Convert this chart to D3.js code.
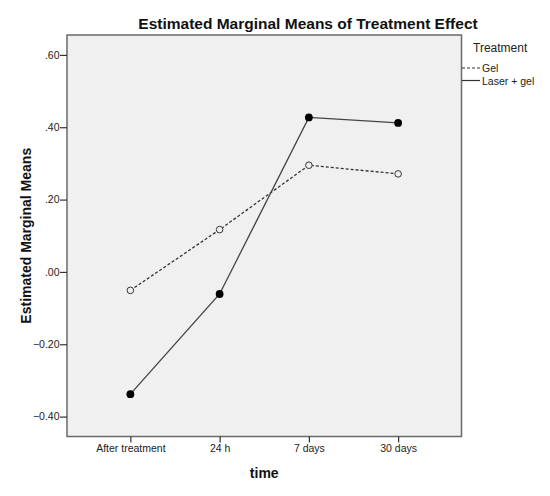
<!DOCTYPE html>
<html>
<head>
<meta charset="utf-8">
<script src="https://cdn.jsdelivr.net/npm/d3@7"></script>
<style>
  body { margin: 0; background: #fff; }
  svg { font-family: "Liberation Sans", Arial, sans-serif; }
</style>
</head>
<body>
<script>
// categories on the x axis
var times = ['After treatment', '24 h', '7 days', '30 days']
// estimated marginal means per treatment
var gelValues = [-0.051, 0.117, 0.295, 0.271]
var laserValues = [-0.338, -0.061, 0.427, 0.412]
// y tick values
var yTicks = [-0.4, -0.2, 0.0, 0.2, 0.4, 0.6]

var width = 550
var height = 496
// plot frame (window.top is reserved, so use plot* names)
var plotLeft = 67, plotTop = 35, plotRight = 461.5, plotBottom = 436.5

var svg = d3.select('body').append('svg')
    .attr('width', width)
    .attr('height', height)

// scales
var xScale = d3.scalePoint()
    .domain(times)
    .range([plotLeft, plotRight])
    .padding(0.71)

var yScale = d3.scaleLinear()
    .domain([-0.455, 0.655])
    .range([plotBottom, plotTop])

// plot background
svg.append('rect')
    .attr('x', plotLeft).attr('y', plotTop)
    .attr('width', plotRight - plotLeft).attr('height', plotBottom - plotTop)
    .attr('fill', '#f0f0f0')
    .attr('stroke', '#6a6a6a')
    .attr('stroke-width', 1.5)

// tick format like SPSS: .60, -.20
var fmt = function (d) {
    var s = d3.format('.2f')(d)
    return s.replace(/^(-?)0\./, '$1.')
}

// axes
var yAxis = d3.axisLeft(yScale).tickValues(yTicks).tickFormat(fmt).tickSize(7).tickSizeOuter(0)
var yG = svg.append('g')
    .attr('transform', 'translate(' + plotLeft + ',0)')
    .call(yAxis)
yG.select('.domain').remove()
yG.selectAll('line').attr('stroke', '#333').attr('stroke-width', 1.2)
yG.selectAll('text').attr('font-size', 10.5).attr('fill', '#222')
    .attr('font-family', '"Liberation Sans", Arial, sans-serif').attr('x', -7.5)

var xAxis = d3.axisBottom(xScale).tickSize(6).tickSizeOuter(0)
var xG = svg.append('g')
    .attr('transform', 'translate(0,' + plotBottom + ')')
    .call(xAxis)
xG.select('.domain').remove()
xG.selectAll('line').attr('stroke', '#333').attr('stroke-width', 1.2)
xG.selectAll('text').attr('font-size', 10.5).attr('fill', '#222')
    .attr('font-family', '"Liberation Sans", Arial, sans-serif').attr('y', 8)

// lines
var line = d3.line()
    .x(function (d, i) { return xScale(times[i]) })
    .y(function (d) { return yScale(d) })

svg.append('path')
    .datum(gelValues)
    .attr('d', line)
    .attr('fill', 'none')
    .attr('stroke', '#333')
    .attr('stroke-width', 1.3)
    .attr('stroke-dasharray', '3,2')

svg.append('path')
    .datum(laserValues)
    .attr('d', line)
    .attr('fill', 'none')
    .attr('stroke', '#444')
    .attr('stroke-width', 1.3)

// markers
svg.selectAll('.gel-pt')
    .data(gelValues)
    .enter()
    .append('circle')
    .attr('class', 'gel-pt')
    .attr('cx', function (d, i) { return xScale(times[i]) })
    .attr('cy', function (d) { return yScale(d) })
    .attr('r', 3.3)
    .attr('fill', '#f0f0f0')
    .attr('stroke', '#333')
    .attr('stroke-width', 1)

svg.selectAll('.laser-pt')
    .data(laserValues)
    .enter()
    .append('circle')
    .attr('class', 'laser-pt')
    .attr('cx', function (d, i) { return xScale(times[i]) })
    .attr('cy', function (d) { return yScale(d) })
    .attr('r', 3.9)
    .attr('fill', '#000')

// title and axis labels
svg.append('text')
    .attr('x', 308).attr('y', 29)
    .attr('text-anchor', 'middle')
    .attr('font-size', 15.5).attr('font-weight', 'bold')
    .attr('fill', '#111')
    .text('Estimated Marginal Means of Treatment Effect')

svg.append('text')
    .attr('transform', 'translate(31,' + ((plotTop + plotBottom) / 2) + ') rotate(-90)')
    .attr('text-anchor', 'middle')
    .attr('font-size', 14).attr('font-weight', 'bold')
    .attr('fill', '#111')
    .text('Estimated Marginal Means')

svg.append('text')
    .attr('x', (plotLeft + plotRight) / 2).attr('y', 478)
    .attr('text-anchor', 'middle')
    .attr('font-size', 14).attr('font-weight', 'bold')
    .attr('fill', '#111')
    .text('time')

// legend
var legend = svg.append('g')
legend.append('text')
    .attr('x', 473).attr('y', 52)
    .attr('font-size', 12).attr('fill', '#222')
    .text('Treatment')

var legendItems = [
    { name: 'Gel', dash: '3,2' },
    { name: 'Laser + gel', dash: null }
]
legendItems.forEach(function (item, i) {
    var y = 68 + i * 12.5
    legend.append('line')
        .attr('x1', 462).attr('x2', 480)
        .attr('y1', y).attr('y2', y)
        .attr('stroke', '#333').attr('stroke-width', 1.2)
        .attr('stroke-dasharray', item.dash)
    legend.append('text')
        .attr('x', 482).attr('y', y + 4)
        .attr('font-size', 10.5).attr('fill', '#222')
        .text(item.name)
})
</script>
</body>
</html>
